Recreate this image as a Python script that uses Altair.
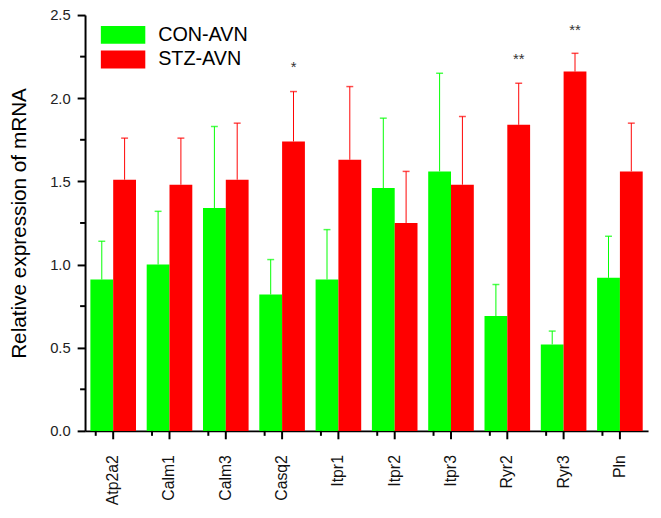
import altair as alt
import pandas as pd

genes = ["Atp2a2", "Calm1", "Calm3", "Casq2", "Itpr1", "Itpr2", "Itpr3", "Ryr2", "Ryr3", "Pln"]
groups = ["CON-AVN", "STZ-AVN"]
colors = ["#00ff00", "#ff0000"]

con_mean = [0.91, 1.00, 1.34, 0.82, 0.91, 1.46, 1.56, 0.69, 0.52, 0.92]
con_upper = [1.14, 1.32, 1.83, 1.03, 1.21, 1.88, 2.15, 0.88, 0.60, 1.17]
stz_mean = [1.51, 1.48, 1.51, 1.74, 1.63, 1.25, 1.48, 1.84, 2.16, 1.56]
stz_upper = [1.76, 1.76, 1.85, 2.04, 2.07, 1.56, 1.89, 2.09, 2.27, 1.85]

sig_genes = ["Casq2", "Ryr2", "Ryr3"]
sig_text = ["*", "**", "**"]
sig_y = [2.185, 2.233, 2.41]

y_ticks = [0.0, 0.5, 1.0, 1.5, 2.0, 2.5]
y_minor = [0.25, 0.75, 1.25, 1.75, 2.25]

W, H = 570, 421
FONT = "Liberation Sans"

rows = []
for i, g in enumerate(genes):
    rows.append({"gene": g, "group": groups[0], "value": con_mean[i], "upper": con_upper[i]})
    rows.append({"gene": g, "group": groups[1], "value": stz_mean[i], "upper": stz_upper[i]})
df = pd.DataFrame(rows)
sig = pd.DataFrame({"gene": sig_genes, "group": [groups[1]] * 3, "y": sig_y, "t": sig_text})
minor = pd.DataFrame({"v": y_minor})
bounds = pd.DataFrame({"gene": genes})

xscale = alt.Scale(domain=genes, paddingInner=0.19, paddingOuter=0.095)
xoff = alt.XOffset("group:N", sort=groups, scale=alt.Scale(domain=groups, paddingInner=0, paddingOuter=0))
xoff_pt = alt.XOffset("group:N", sort=groups, scale=alt.Scale(type="point", domain=groups, padding=0.5))
yscale = alt.Scale(domain=[0, 2.5], nice=False, zero=True)
cscale = alt.Scale(domain=groups, range=colors)

xaxis = alt.Axis(title=None, labelAngle=-90, labelFontSize=16, labelFont=FONT, labelColor="#111",
                 tickSize=8, tickWidth=2, tickColor="black", domainWidth=2, domainColor="black",
                 labelPadding=16, grid=False)
yaxis = alt.Axis(title="Relative expression of mRNA", values=y_ticks, format=".1f",
                 labelFontSize=15, labelFont=FONT, labelColor="#222", tickSize=8, tickWidth=2,
                 tickColor="black", domainWidth=2, domainColor="black", labelPadding=7,
                 titleFontSize=21, titleFont=FONT, titleFontWeight="normal", titleColor="black",
                 titlePadding=20, grid=False)

bars = alt.Chart(df).mark_bar().encode(
    x=alt.X("gene:N", sort=genes, scale=xscale, axis=xaxis),
    xOffset=xoff,
    y=alt.Y("value:Q", scale=yscale, axis=yaxis),
    color=alt.Color("group:N", scale=cscale, sort=groups,
                    legend=alt.Legend(title=None, orient="none", legendX=28.5, legendY=10,
                                      symbolType="M-2.5,-1H2.5V1H-2.5Z", symbolSize=324,
                                      symbolStrokeWidth=0, symbolOpacity=1,
                                      labelFontSize=20, labelFont=FONT, labelColor="black",
                                      labelOffset=25.5, rowPadding=5)),
)

xg = alt.X("gene:N", sort=genes, scale=xscale)

err = alt.Chart(df).mark_rule(strokeWidth=1).encode(
    x=xg,
    xOffset=xoff_pt,
    y=alt.Y("value:Q", scale=yscale),
    y2="upper:Q",
    color=alt.Color("group:N", scale=cscale, legend=None),
)

caps = alt.Chart(df).mark_tick(thickness=1.5, size=7).encode(
    x=xg,
    xOffset=xoff_pt,
    y=alt.Y("upper:Q", scale=yscale),
    color=alt.Color("group:N", scale=cscale, legend=None),
)

stars = alt.Chart(sig).mark_text(fontSize=15, font=FONT, color="#333", baseline="middle", dy=0).encode(
    x=xg,
    xOffset=xoff_pt,
    y=alt.Y("y:Q", scale=yscale),
    text="t:N",
)

marks_pt = alt.layer(err, caps, stars)

yminor = alt.Chart(minor).mark_rule(color="black", strokeWidth=2).encode(
    y=alt.Y("v:Q", scale=yscale),
    x=alt.value(-5),
    x2=alt.value(0),
)

xminor = alt.Chart(bounds).mark_rule(color="black", strokeWidth=2).encode(
    x=alt.X("gene:N", sort=genes, scale=xscale, bandPosition=1),
    xOffset=alt.value(5.4),
    y=alt.value(H),
    y2=alt.value(H + 5),
)

chart = alt.layer(bars, marks_pt, yminor, xminor).resolve_scale(xOffset="independent").properties(
    width=W, height=H,
    autosize=alt.AutoSizeParams(type="none"),
    padding={"left": 78, "top": 4, "right": 5, "bottom": 80},
).configure_view(stroke=None).configure_axis(labelFont=FONT, titleFont=FONT)

chart.save("out.html", embed_options={"renderer": "svg", "actions": False})
